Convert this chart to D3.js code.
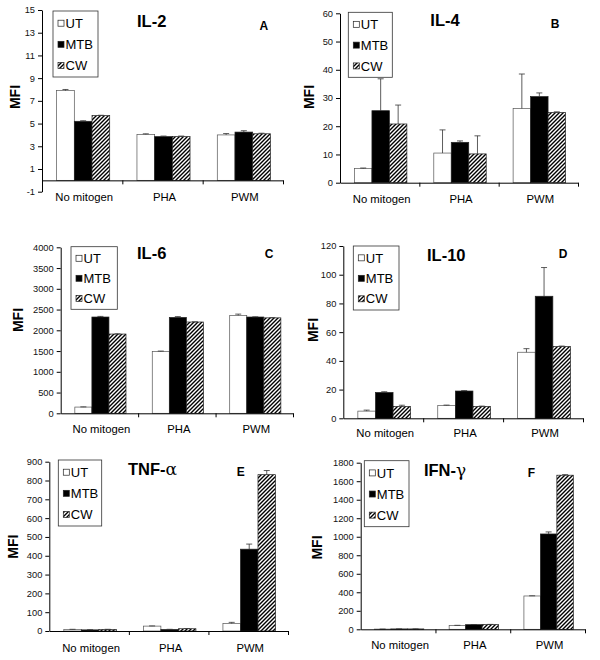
<!DOCTYPE html>
<html><head><meta charset="utf-8">
<script src="https://cdn.jsdelivr.net/npm/d3@7"></script>
<style>body{margin:0;background:#fff}svg{display:block;font-family:"Liberation Sans",Arial,sans-serif}</style>
</head><body><svg id="c" width="600" height="660"></svg>
<script>
// ---- data ----
const categories = ["No mitogen", "PHA", "PWM"];
const seriesNames = ["UT", "MTB", "CW"];

// values per series (rows: UT, MTB, CW; columns: No mitogen, PHA, PWM)
const il2Values  = [[7.9, 4.05, 4.0], [5.2, 3.85, 4.25], [5.7, 3.85, 4.1]];
const il2Errors  = [[0.1, 0.05, 0.12], [0.05, 0.05, 0.12], [0.03, 0.05, 0.05]];
const il2Ticks   = [-1, 1, 3, 5, 7, 9, 11, 13, 15];

const il4Values  = [[5.0, 10.5, 26.3], [25.5, 14.3, 30.5], [20.8, 10.2, 24.9]];
const il4Errors  = [[0.2, 8.2, 12.2], [11.3, 0.5, 1.3], [6.7, 6.4, 0.2]];
const il4Ticks   = [0, 10, 20, 30, 40, 50, 60];

const il6Values  = [[150, 1490, 2360], [2320, 2310, 2320], [1910, 2200, 2300]];
const il6Errors  = [[5, 10, 30], [15, 20, 5], [5, 5, 5]];
const il6Ticks   = [0, 500, 1000, 1500, 2000, 2500, 3000, 3500, 4000];

const il10Values = [[5, 9, 46], [18, 19, 85], [8.3, 8.3, 50]];
const il10Errors = [[0.7, 0.2, 2.5], [0.5, 0.3, 20], [0.8, 0.2, 0.3]];
const il10Ticks  = [0, 20, 40, 60, 80, 100, 120];

const tnfValues  = [[8, 26, 40], [6, 8, 435], [8, 12, 831]];
const tnfErrors  = [[1, 1, 6], [1, 1, 27], [1, 1, 22]];
const tnfTicks   = [0, 100, 200, 300, 400, 500, 600, 700, 800, 900];

const ifnValues  = [[2, 42, 360], [4, 50, 1030], [4, 52, 1665]];
const ifnErrors  = [[0.5, 1, 2], [0.5, 1, 22], [0.5, 1, 6]];
const ifnTicks   = [0, 200, 400, 600, 800, 1000, 1200, 1400, 1600, 1800];

// ---- layout ----
const panels = [
  {title: "IL-2", greek: "", letter: "A", values: il2Values, errors: il2Errors, ticks: il2Ticks,
   left: 42, right: 283, top: 10, bottom: 191.7, catY: 201,
   legend: [53, 11, 45, 66], titleX: 151.7, titleY: 26.7, letterX: 263.8, letterY: 30, mfi: [15, 97]},
  {title: "IL-4", greek: "", letter: "B", values: il4Values, errors: il4Errors, ticks: il4Ticks,
   left: 340, right: 578, top: 13.3, bottom: 182.7, catY: 203,
   legend: [348.3, 12.3, 44, 65], titleX: 445, titleY: 26, letterX: 555, letterY: 28.3, mfi: [309, 97]},
  {title: "IL-6", greek: "", letter: "C", values: il6Values, errors: il6Errors, ticks: il6Ticks,
   left: 60.7, right: 293, top: 247.3, bottom: 413.3, catY: 433.3,
   legend: [71, 246.7, 46.3, 62.6], titleX: 151.7, titleY: 259.3, letterX: 269, letterY: 258.3, mfi: [17.5, 320]},
  {title: "IL-10", greek: "", letter: "D", values: il10Values, errors: il10Errors, ticks: il10Ticks,
   left: 343.3, right: 583, top: 246, bottom: 418.3, catY: 437,
   legend: [353.3, 246, 45.7, 64], titleX: 446.3, titleY: 261, letterX: 563, letterY: 258.3, mfi: [312.5, 330]},
  {title: "TNF-", greek: "α", letter: "E", values: tnfValues, errors: tnfErrors, ticks: tnfTicks,
   left: 49.3, right: 288, top: 461.7, bottom: 631, catY: 651.7,
   legend: [58.3, 460, 43.4, 66], titleX: 152.5, titleY: 475, letterX: 240.8, letterY: 476, mfi: [13.3, 546.7]},
  {title: "IFN-", greek: "γ", letter: "F", values: ifnValues, errors: ifnErrors, ticks: ifnTicks,
   left: 360.7, right: 585, top: 462.7, bottom: 629.3, catY: 649.3,
   legend: [364.3, 460.7, 44.7, 66], titleX: 445, titleY: 476, letterX: 531.3, letterY: 476.7, mfi: [316.7, 547.5]}
];

const svg = d3.select("#c");
const defs = svg.append("defs");
const pat = defs.append("pattern").attr("id", "hatch").attr("patternUnits", "userSpaceOnUse")
  .attr("width", 4).attr("height", 4);
pat.append("rect").attr("width", 4).attr("height", 4).attr("fill", "#fff");
pat.append("path").attr("d", "M-1,1 l2,-2 M0,4 l4,-4 M3,5 l2,-2")
  .attr("stroke", "#000").attr("stroke-width", 1.4);

const fills = {UT: "#fff", MTB: "#000", CW: "url(#hatch)"};
const FONT = '"Liberation Sans",Arial,sans-serif';

panels.forEach(p => {
  const g = svg.append("g");
  const y = d3.scaleLinear().domain([p.ticks[0], p.ticks[p.ticks.length - 1]]).range([p.bottom, p.top]);
  const x0 = d3.scaleBand().domain(categories).range([p.left, p.right]).padding(0);
  const x1 = d3.scaleBand().domain(seriesNames).range([0, x0.bandwidth()]).paddingInner(0).paddingOuter(0.77);

  // bars
  seriesNames.forEach((s, si) => {
    categories.forEach((c, ci) => {
      const v = p.values[si][ci];
      const e = p.errors[si][ci];
      const bx = x0(c) + x1(s) + 1;
      const bw = x1.bandwidth();
      g.append("rect").attr("x", bx).attr("y", y(v)).attr("width", bw)
        .attr("height", Math.max(0, y(0) - y(v)))
        .attr("fill", fills[s]).attr("stroke", s === "UT" ? "#555" : "#222").attr("stroke-width", 0.7);
      const cx = bx + bw / 2;
      g.append("line").attr("x1", cx).attr("x2", cx).attr("y1", y(v)).attr("y2", y(v + e))
        .attr("stroke", "#333").attr("stroke-width", 0.8);
      g.append("line").attr("x1", cx - 3).attr("x2", cx + 3).attr("y1", y(v + e)).attr("y2", y(v + e))
        .attr("stroke", "#333").attr("stroke-width", 0.8);
    });
  });

  // y axis
  const ya = g.append("g").attr("transform", `translate(${p.left},0)`)
    .call(d3.axisLeft(y).tickValues(p.ticks).tickFormat(d => String(d)).tickSize(4).tickSizeOuter(0).tickPadding(3));
  ya.attr("font-family", FONT);
  ya.selectAll("text").attr("font-size", 9.3).attr("fill", "#111");
  ya.selectAll("line,path").attr("stroke", "#000");

  // x axis with separator ticks
  const xs = d3.scaleLinear().domain([0, categories.length]).range([p.left, p.right]);
  const xa = g.append("g").attr("transform", `translate(0,${y(0)})`)
    .call(d3.axisBottom(xs).tickValues(d3.range(1, categories.length + 1)).tickFormat("").tickSize(4).tickSizeOuter(0));
  xa.selectAll("line,path").attr("stroke", "#000");

  // category labels
  g.selectAll("text.cat").data(categories).join("text").attr("class", "cat")
    .attr("x", d => x0(d) + x0.bandwidth() / 2 + 2).attr("y", p.catY)
    .attr("text-anchor", "middle").attr("font-size", 11.3).text(d => d);

  // MFI label
  g.append("text").attr("transform", `translate(${p.mfi[0]},${p.mfi[1]}) rotate(-90)`)
    .attr("text-anchor", "middle").attr("dy", "0.36em").attr("font-size", 14).attr("font-weight", "bold").text("MFI");

  // title
  const t = g.append("text").attr("x", p.titleX).attr("y", p.titleY).attr("text-anchor", "middle")
    .attr("font-size", 16.5).attr("font-weight", "bold").text(p.title);
  if (p.greek) t.append("tspan").attr("font-weight", "normal").attr("font-family", '"DejaVu Serif",serif').attr("font-size", 17).text(p.greek);

  g.append("text").attr("x", p.letterX).attr("y", p.letterY).attr("text-anchor", "middle")
    .attr("font-size", 12).attr("font-weight", "bold").text(p.letter);

  // legend
  const [lx, ly, lw, lh] = p.legend;
  g.append("rect").attr("x", lx).attr("y", ly).attr("width", lw).attr("height", lh)
    .attr("fill", "#fff").attr("stroke", "#333").attr("stroke-width", 0.8);
  seriesNames.forEach((s, i) => {
    const cy = ly + lh * (0.185 + i * 0.32);
    g.append("rect").attr("x", lx + 5).attr("y", cy - 3).attr("width", 6).attr("height", 6)
      .attr("fill", fills[s]).attr("stroke", "#222").attr("stroke-width", 0.7);
    g.append("text").attr("x", lx + 12.5).attr("y", cy).attr("dy", "0.36em")
      .attr("font-size", 13).text(s);
  });
});
</script></body></html>
